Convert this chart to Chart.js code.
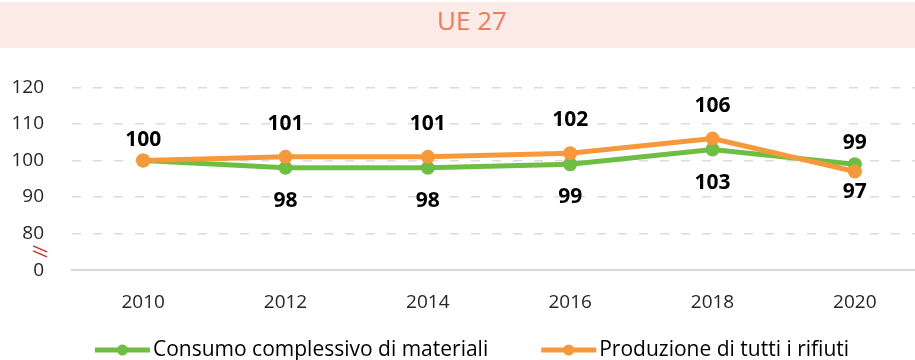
<!DOCTYPE html>
<html>
<head>
<meta charset="utf-8">
<script src="https://cdn.jsdelivr.net/npm/chart.js@4.4.0/dist/chart.umd.min.js"></script>
<style>
  html, body { margin: 0; padding: 0; background: #fff; overflow: hidden; }
  #wrap { width: 944px; }
  #banner {
    margin-top: 2px; height: 46px; line-height: 46px;
    background: #fdebe7; color: #f27a5c;
    font: 400 26px 'Open Sans', sans-serif; text-align: center;
  }
  #box { position: relative; width: 944px; height: 312px; }
</style>
</head>
<body>
<div id="wrap">
  <div id="banner">UE 27</div>
  <div id="box"><canvas id="chart"></canvas></div>
</div>
<script>
const years = ['2010', '2012', '2014', '2016', '2018', '2020'];
const consumoMateriali = [100, 98, 98, 99, 103, 99];
const produzioneRifiuti = [100, 101, 101, 102, 106, 97];

// broken axis: the bottom step (70) is labelled 0
const yTickValues = [70, 80, 90, 100, 110, 120];
const yTickLabels = ['0', '80', '90', '100', '110', '120'];

const GREEN = '#6fbe44';
const ORANGE = '#f7993a';
const FONT = "'Open Sans', sans-serif";

// value labels: each label sits on the side away from the other line
const valueLabels = {
  id: 'valueLabels',
  afterDatasetsDraw(chart) {
    const ctx = chart.ctx;
    const sets = chart.data.datasets;
    ctx.save();
    ctx.font = 'bold 21px ' + FONT;
    ctx.fillStyle = '#000';
    ctx.textAlign = 'center';
    ctx.textBaseline = 'middle';
    sets.forEach((ds, di) => {
      const meta = chart.getDatasetMeta(di);
      const other = sets[1 - di].data;
      const last = ds.data.length - 1;
      meta.data.forEach((pt, i) => {
        const v = ds.data[i];
        if (v === other[i] && di === 0) return;
        const up = v >= other[i];
        const off = (i === 0 || i === last) ? 21 : 33;
        ctx.fillText(String(v), pt.x, up ? pt.y - off : pt.y + off);
      });
    });
    ctx.restore();
  }
};

// "//" break marker between 0 and 80
const axisBreak = {
  id: 'axisBreak',
  afterDraw(chart) {
    const y = chart.scales.y.getPixelForValue(75);
    const ctx = chart.ctx;
    ctx.save();
    ctx.strokeStyle = '#d9262b';
    ctx.lineWidth = 1.3;
    ctx.beginPath();
    ctx.moveTo(33, y - 6); ctx.lineTo(47, y);
    ctx.moveTo(33, y - 1); ctx.lineTo(47, y + 5);
    ctx.stroke();
    ctx.restore();
  }
};

// legend with line + marker swatches, drawn under the axis
const lineLegend = {
  id: 'lineLegend',
  afterDraw(chart) {
    const ctx = chart.ctx;
    const sets = chart.data.datasets;
    const swatch = 55, gapText = 3, gapItem = 53;
    const y = chart.height - 10;
    ctx.save();
    ctx.font = '21px ' + FONT;
    const widths = sets.map(ds => swatch + gapText + ctx.measureText(ds.label).width);
    const total = widths.reduce((a, b) => a + b, 0) + gapItem * (sets.length - 1);
    let x = chart.width / 2 - total / 2;
    sets.forEach((ds, i) => {
      ctx.strokeStyle = ds.borderColor;
      ctx.lineWidth = 5;
      ctx.beginPath();
      ctx.moveTo(x, y); ctx.lineTo(x + swatch, y);
      ctx.stroke();
      ctx.fillStyle = ds.borderColor;
      ctx.beginPath();
      ctx.arc(x + swatch / 2, y, 5.5, 0, Math.PI * 2);
      ctx.fill();
      ctx.fillStyle = '#000';
      ctx.textAlign = 'left';
      ctx.textBaseline = 'middle';
      ctx.fillText(ds.label, x + swatch + gapText, y);
      x += widths[i] + gapItem;
    });
    ctx.restore();
  }
};

new Chart(document.getElementById('chart'), {
  type: 'line',
  data: {
    labels: years,
    datasets: [
      {
        label: 'Consumo complessivo di materiali',
        data: consumoMateriali,
        borderColor: GREEN,
        backgroundColor: GREEN,
        order: 1,
      },
      {
        label: 'Produzione di tutti i rifiuti',
        data: produzioneRifiuti,
        borderColor: ORANGE,
        backgroundColor: ORANGE,
        order: 0,
      },
    ],
  },
  options: {
    responsive: true,
    maintainAspectRatio: false,
    animation: false,
    elements: {
      line: { borderWidth: 5, tension: 0 },
      point: { radius: 7, borderWidth: 0, hoverRadius: 7 },
    },
    layout: { padding: { top: 27, right: 18, bottom: 33, left: 0 } },
    plugins: {
      legend: { display: false },
      tooltip: { enabled: false },
    },
    scales: {
      x: {
        offset: true,
        grid: { display: false },
        border: { display: true, color: '#d9d9d9', width: 2 },
        ticks: { color: '#262626', font: { family: FONT, size: 19 }, padding: 13 },
      },
      y: {
        min: 70,
        max: 120,
        afterFit(scale) { scale.width = 72; },
        afterBuildTicks(scale) { scale.ticks = yTickValues.map(v => ({ value: v })); },
        grid: {
          drawTicks: false,
          lineWidth: 1.5,
          color: c => (c.tick && c.tick.value === 70) ? 'rgba(0,0,0,0)' : '#dcdcdc',
        },
        border: { display: false, dash: [9, 12] },
        ticks: {
          color: '#262626',
          font: { family: FONT, size: 19 },
          padding: 28,
          callback: v => yTickLabels[yTickValues.indexOf(v)],
        },
      },
    },
  },
  plugins: [valueLabels, axisBreak, lineLegend],
});
</script>
</body>
</html>
